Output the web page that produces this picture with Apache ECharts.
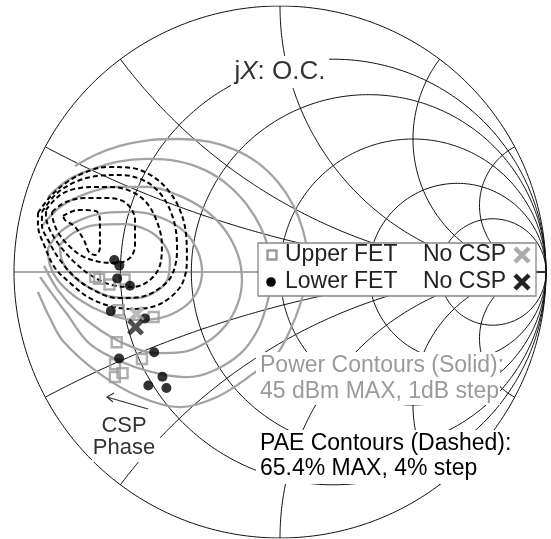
<!DOCTYPE html>
<html><head><meta charset="utf-8">
<script src="https://cdn.jsdelivr.net/npm/echarts@6/dist/echarts.min.js"></script>
<style>html,body{margin:0;padding:0;background:#fff}#c{width:551px;height:539px}</style>
</head><body><div id="c"></div>
<script>
// Smith chart grid values
const rValues = [0.25, 0.5, 1, 2, 4];
const xValues = [0.25, 0.5, 1, 2, 4];

// Measured reflection coefficients (Re, Im)
const upperFET = [[-0.695,-0.019],[-0.680,-0.026],[-0.641,-0.047],[-0.584,-0.028],[-0.607,-0.144],[-0.475,-0.169],[-0.614,-0.264],[-0.519,-0.327],[-0.620,-0.347],[-0.592,-0.380],[-0.621,-0.395]];
const lowerFET = [[-0.623,0.045],[-0.604,0.024],[-0.612,-0.024],[-0.564,-0.052],[-0.636,-0.147],[-0.508,-0.175],[-0.473,-0.302],[-0.605,-0.325],[-0.442,-0.394],[-0.495,-0.427],[-0.427,-0.436]];
const noCspUpper = [[-0.539,-0.158]];
const noCspLower = [[-0.543,-0.207]];

// Power contours (solid), outer to inner
const power1 = [[-0.771,0.398],[-0.695,0.440],[-0.602,0.474],[-0.489,0.496],[-0.376,0.500],[-0.263,0.489],[-0.169,0.459],[-0.083,0.410],[-0.008,0.338],[0.049,0.252],[0.086,0.158],[0.102,0.064],[0.098,-0.030],[0.075,-0.124],[0.038,-0.218],[-0.011,-0.308],[-0.102,-0.383],[-0.237,-0.470],[-0.376,-0.508],[-0.526,-0.470],[-0.677,-0.383],[-0.816,-0.259],[-0.865,-0.173],[-0.910,-0.075]];
const power2 = [[-0.872,0.282],[-0.797,0.346],[-0.714,0.383],[-0.613,0.414],[-0.500,0.425],[-0.387,0.417],[-0.282,0.383],[-0.195,0.327],[-0.124,0.252],[-0.071,0.165],[-0.041,0.075],[-0.030,-0.011],[-0.049,-0.120],[-0.086,-0.222],[-0.150,-0.308],[-0.252,-0.372],[-0.350,-0.395],[-0.451,-0.383],[-0.575,-0.346],[-0.714,-0.271],[-0.801,-0.158],[-0.902,-0.019]];
const power3 = [[-0.895,0.173],[-0.827,0.244],[-0.733,0.293],[-0.620,0.320],[-0.496,0.320],[-0.383,0.289],[-0.282,0.233],[-0.207,0.158],[-0.158,0.064],[-0.143,-0.030],[-0.158,-0.117],[-0.203,-0.199],[-0.274,-0.263],[-0.368,-0.301],[-0.470,-0.305],[-0.575,-0.274],[-0.677,-0.218],[-0.763,-0.150],[-0.835,-0.068],[-0.887,0.023]];
const power4 = [[-0.872,0.090],[-0.827,0.150],[-0.752,0.195],[-0.658,0.222],[-0.545,0.226],[-0.444,0.203],[-0.357,0.150],[-0.308,0.075],[-0.293,0.000],[-0.312,-0.075],[-0.365,-0.135],[-0.451,-0.173],[-0.553,-0.180],[-0.658,-0.154],[-0.752,-0.105],[-0.827,-0.041],[-0.865,0.026],[-0.872,0.090]];
const power5 = [[-0.827,0.102],[-0.771,0.150],[-0.688,0.177],[-0.590,0.180],[-0.500,0.158],[-0.440,0.109],[-0.414,0.045],[-0.421,-0.023],[-0.462,-0.071],[-0.538,-0.098],[-0.628,-0.094],[-0.714,-0.060],[-0.782,-0.011],[-0.820,0.045],[-0.827,0.102]];

// PAE contours (dashed), outer to inner
const pae1 = [[-0.910,0.222],[-0.865,0.282],[-0.805,0.335],[-0.729,0.376],[-0.647,0.395],[-0.556,0.391],[-0.481,0.361],[-0.421,0.308],[-0.376,0.233],[-0.353,0.139],[-0.350,0.045],[-0.365,-0.038],[-0.406,-0.090],[-0.470,-0.128],[-0.553,-0.139],[-0.639,-0.128],[-0.722,-0.094],[-0.789,-0.041],[-0.846,0.015],[-0.887,0.102],[-0.910,0.177],[-0.910,0.222]];
const pae2 = [[-0.895,0.226],[-0.842,0.293],[-0.771,0.338],[-0.688,0.361],[-0.602,0.365],[-0.508,0.342],[-0.440,0.282],[-0.398,0.188],[-0.387,0.083],[-0.406,-0.011],[-0.451,-0.060],[-0.526,-0.094],[-0.613,-0.098],[-0.695,-0.071],[-0.767,-0.023],[-0.827,0.045],[-0.872,0.120],[-0.895,0.177],[-0.895,0.226]];
const pae3 = [[-0.880,0.233],[-0.827,0.289],[-0.752,0.316],[-0.658,0.320],[-0.571,0.308],[-0.504,0.263],[-0.462,0.188],[-0.444,0.102],[-0.451,0.026],[-0.489,-0.030],[-0.553,-0.056],[-0.632,-0.049],[-0.707,-0.015],[-0.774,0.038],[-0.827,0.098],[-0.865,0.158],[-0.880,0.214],[-0.880,0.233]];
const pae4 = [[-0.857,0.226],[-0.805,0.263],[-0.729,0.278],[-0.639,0.278],[-0.575,0.256],[-0.545,0.195],[-0.545,0.102],[-0.564,0.053],[-0.613,0.034],[-0.677,0.038],[-0.744,0.060],[-0.797,0.102],[-0.835,0.150],[-0.853,0.195],[-0.857,0.226]];
const pae5 = [[-0.816,0.211],[-0.759,0.233],[-0.692,0.229],[-0.677,0.195],[-0.677,0.090],[-0.695,0.064],[-0.718,0.075],[-0.737,0.120],[-0.774,0.173],[-0.808,0.195],[-0.816,0.211]];

const powerContours = [power1, power2, power3, power4, power5];
const paeContours = [pae1, pae2, pae3, pae4, pae5];

const FONT = '"Liberation Sans", Arial, Helvetica, sans-serif';

function rCircle(r){
  const c = r/(1+r), p = 1/(1+r), pts = [];
  for (let i=0;i<=360;i++){ const t=i*Math.PI/180; pts.push([c+p*Math.cos(t), p*Math.sin(t)]); }
  return pts;
}
function xArc(x){
  const pts = [];
  for (let i=0;i<400;i++){
    const s = Math.tan(i/400*Math.PI/2);
    const d = (s+1)*(s+1)+x*x;
    pts.push([(s*s-1+x*x)/d, 2*x/d]);
  }
  pts.push([1,0]);
  return pts;
}
const gridStyle = {color:'#111', width:1};
const series = [];
function gridLine(data, style){
  series.push({type:'line', data, symbol:'none', silent:true, animation:false, lineStyle: style||gridStyle, z:1});
}
gridLine(rCircle(0));
rValues.forEach(r=>gridLine(rCircle(r)));
xValues.forEach(x=>{ gridLine(xArc(x)); gridLine(xArc(-x)); });
gridLine([[-1,0],[1,0]], {color:'#555', width:1.2});

powerContours.forEach((c,i)=>series.push({type:'line', name:'Power '+(45-i), data:c, smooth:0.35, symbol:'none', silent:true, animation:false, lineStyle:{color:'#a3a3a3', width:2.3}, z:3}));
paeContours.forEach((c,i)=>series.push({type:'line', name:'PAE '+i, data:c, smooth:0.35, symbol:'none', silent:true, animation:false, lineStyle:{color:'#000', width:2, type:[5,3]}, z:4}));

const XPATH = 'path://M2,0 L5,3 L8,0 L10,2 L7,5 L10,8 L8,10 L5,7 L2,10 L0,8 L3,5 L0,2 Z';
series.push({type:'scatter', name:'Upper FET', data:upperFET, symbol:'rect', symbolSize:10, itemStyle:{color:'rgba(0,0,0,0)', borderColor:'#9a9a9a', borderWidth:2.4}, z:6, animation:false});
series.push({type:'scatter', name:'Lower FET', data:lowerFET, symbol:'circle', symbolSize:10, itemStyle:{color:'#000'}, z:6, animation:false});
series.push({type:'scatter', name:'No CSP (Upper)', data:noCspUpper, symbol:XPATH, symbolSize:16, itemStyle:{color:'#aaaaaa'}, z:6, animation:false});
series.push({type:'scatter', name:'No CSP (Lower)', data:noCspLower, symbol:XPATH, symbolSize:17, itemStyle:{color:'#222'}, z:7, animation:false});

function txt(text, x, y, size, color, align){
  return {type:'text', z:101, style:{text, x, y, font: size+'px '+FONT, fill:color, align:align||'left', verticalAlign:'middle'}};
}
function box(x,y,w,h,stroke){
  return {type:'rect', z:100, shape:{x,y,width:w,height:h}, style:{fill:'#fff', stroke:stroke||null, lineWidth:stroke?1.3:0}};
}
function xMark(cx,cy,color){
  return [
    {type:'line', z:102, shape:{x1:cx-7,y1:cy-7,x2:cx+7,y2:cy+7}, style:{stroke:color, lineWidth:4.5}},
    {type:'line', z:102, shape:{x1:cx+7,y1:cy-7,x2:cx-7,y2:cy+7}, style:{stroke:color, lineWidth:4.5}}
  ];
}

const graphic = [
  box(231,56,98,32),
  {type:'text', z:101, style:{text:'{a|j}{b|X}{a|: O.C.}', x:280, y:72, align:'center', verticalAlign:'middle', rich:{a:{font:'26px '+FONT, fill:'#333'}, b:{font:'italic 26px '+FONT, fill:'#333'}}}},
  box(258,243,278,53,'#888'),
  {type:'rect', z:102, shape:{x:267.5,y:250.5,width:9,height:9}, style:{fill:'none', stroke:'#9a9a9a', lineWidth:2.4}},
  txt('Upper FET',285,255,23,'#222'),
  txt('No CSP',423,255,23,'#222'),
  ...xMark(522,255,'#aaaaaa'),
  {type:'circle', z:102, shape:{cx:271,cy:282,r:4.8}, style:{fill:'#000'}},
  txt('Lower FET',285,282,23,'#222'),
  txt('No CSP',423,282,23,'#222'),
  ...xMark(522,282,'#222'),
  box(256,352,244,53),
  txt('Power Contours (Solid):',260,366,23,'#9a9a9a'),
  txt('45 dBm MAX, 1dB step',260,392,23,'#9a9a9a'),
  box(256,430,256,54),
  txt('PAE Contours (Dashed):',260,444,23,'#000'),
  txt('65.4% MAX, 4% step',260,469,23,'#000'),
  box(92,410,68,52),
  txt('CSP',124,426,22,'#333','center'),
  txt('Phase',124,448,22,'#333','center'),
  {type:'line', z:102, shape:{x1:148,y1:409,x2:107,y2:397}, style:{stroke:'#333', lineWidth:1.2}},
  {type:'polyline', z:102, shape:{points:[[114,393],[107,397],[113,402]]}, style:{stroke:'#333', lineWidth:1.2, fill:null}}
];

const chart = echarts.init(document.getElementById('c'), null, {renderer:'canvas'});
chart.setOption({
  animation:false,
  backgroundColor:'#fff',
  grid:{left:14, top:6, width:532, height:532},
  xAxis:{type:'value', min:-1, max:1, show:false},
  yAxis:{type:'value', min:-1, max:1, show:false},
  series,
  graphic
});
</script></body></html>
